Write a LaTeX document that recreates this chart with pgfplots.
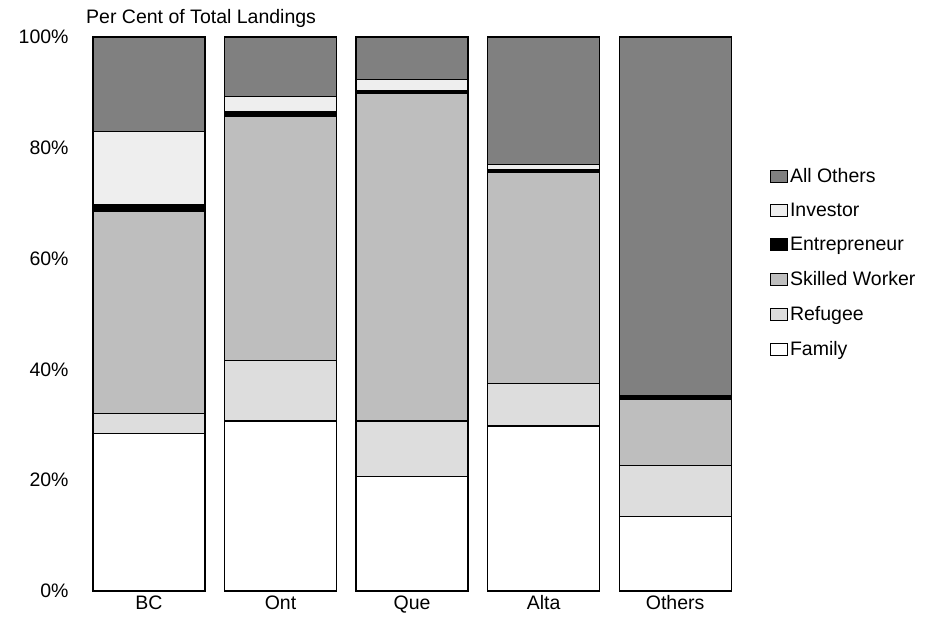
\documentclass[border=0pt]{standalone}
\usepackage{pgfplots}
\pgfplotsset{compat=1.18}
\usepackage{fontspec}
\setmainfont{Liberation Sans}
\definecolor{allo}{HTML}{808080}
\definecolor{inv}{HTML}{EEEEEE}
\definecolor{skw}{HTML}{BEBEBE}
\definecolor{ref}{HTML}{DDDDDD}
\begin{document}
\begin{tikzpicture}[x=1pt,y=1pt]
\path[use as bounding box] (0,0) rectangle (929,625);
\begin{axis}[
  at={(149pt,34pt)}, anchor=origin,
  scale only axis, width=684pt, height=554pt,
  ybar stacked, bar width=112pt,
  xmin=-0.6, xmax=4.6, ymin=0, ymax=100,
  axis line style={draw=none},
  major tick length=0pt,
  xtick={0,1,2,3,4},
  xticklabels={BC,Ont,Que,Alta,Others},
  ytick={0,20,40,60,80,100},
  yticklabel={\pgfmathprintnumber{\tick}\%},
  /pgf/number format/assume math mode=true,
  tick label style={font=\fontsize{19.5}{22}\selectfont},
  yticklabel style={xshift=2pt},
  xticklabel style={yshift=-1pt},
  legend style={at={(1.023,0.767)}, anchor=north west, draw=none, fill=none,
     font=\fontsize{19.5}{22}\selectfont, row sep=15.3pt, inner sep=0pt},
  legend cell align=left,
  reverse legend,
  legend image code/.code={\draw[#1, line width=1pt] (0pt,-6pt) rectangle (17pt,6pt);},
  every axis plot/.append style={draw=black, line width=1.2pt},
  clip=false,
]
\addplot[fill=white] coordinates {(0,28.5) (1,30.7) (2,20.6) (3,29.8) (4,13.5)};
\addlegendentry{Family}
\addplot[fill=ref] coordinates {(0,3.6) (1,10.9) (2,10.1) (3,7.7) (4,9.2)};
\addlegendentry{Refugee}
\addplot[fill=skw] coordinates {(0,36.4) (1,44.1) (2,59.1) (3,38.0) (4,11.8)};
\addlegendentry{Skilled Worker}
\addplot[fill=black] coordinates {(0,1.2) (1,0.9) (2,0.5) (3,0.5) (4,0.5)};
\addlegendentry{Entrepreneur}
\addplot[fill=inv] coordinates {(0,13.3) (1,2.6) (2,2.1) (3,1.0) (4,0.2)};
\addlegendentry{Investor}
\addplot[fill=allo] coordinates {(0,17.0) (1,10.8) (2,7.6) (3,23.0) (4,64.8)};
\addlegendentry{All Others}
\end{axis}
\node[anchor=base west, inner sep=0pt, font=\fontsize{19.5}{22}\selectfont] at (86,601) {Per Cent of Total Landings};
\end{tikzpicture}
\end{document}
